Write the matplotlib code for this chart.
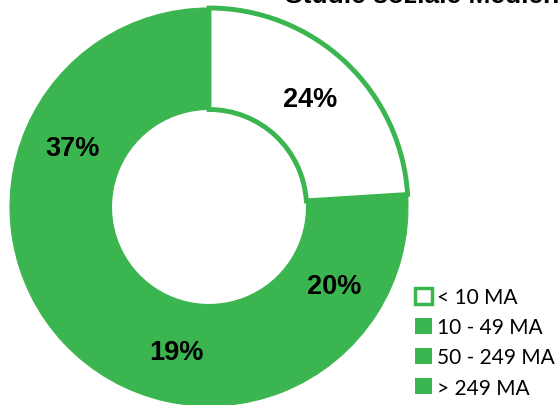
import matplotlib
matplotlib.use("Agg")
import matplotlib.pyplot as plt
from matplotlib.patches import Patch

# data
categories = ["< 10 MA", "10 - 49 MA", "50 - 249 MA", "> 249 MA"]
shares = [24, 20, 19, 37]
title = "Studie soziale Medien"

green = "#3BB54F"
faces = ["white", green, green, green]

fig = plt.figure(figsize=(5.58, 4.06), dpi=100)

# donut axes: centre (209, 208) px, radius 199 px
ax = fig.add_axes([10 / 558, -1 / 406, 398 / 558, 398 / 406])
wedges, texts, autotexts = ax.pie(
    shares,
    colors=faces,
    startangle=90,
    counterclock=False,
    radius=1.0,
    autopct="%.0f%%",
    pctdistance=0.745,
    wedgeprops=dict(width=0.51, linewidth=0.8, edgecolor=green),
    textprops=dict(fontsize=19.5, fontweight="bold", family="Liberation Sans", color="black"),
)
# white slice gets a thicker green outline
wedges[0].set_linewidth(3.5)
wedges[0].set_zorder(3)
ax.set_xlim(-1, 1)
ax.set_ylim(-1, 1)
ax.set_aspect("equal")
ax.axis("off")

# title, partly cut off at the top as in the reference
fig.text(285 / 558, 403 / 406, title, fontsize=19, fontweight="bold",
         family="Liberation Sans", ha="left", va="baseline")

handles = []
for lab, fc in zip(categories, faces):
    handles.append(Patch(facecolor=fc, edgecolor=green, linewidth=2.5 if fc == "white" else 0, label=lab))

fig.legend(handles=handles, loc="upper left", bbox_to_anchor=(415 / 558, 1 - 288 / 406),
           frameon=False, prop=dict(family="Lato", size=15),
           handlelength=0.8, handleheight=0.8, handletextpad=0.25,
           labelspacing=0.49, borderpad=0, borderaxespad=0)

fig.savefig("out.png", dpi=100)
